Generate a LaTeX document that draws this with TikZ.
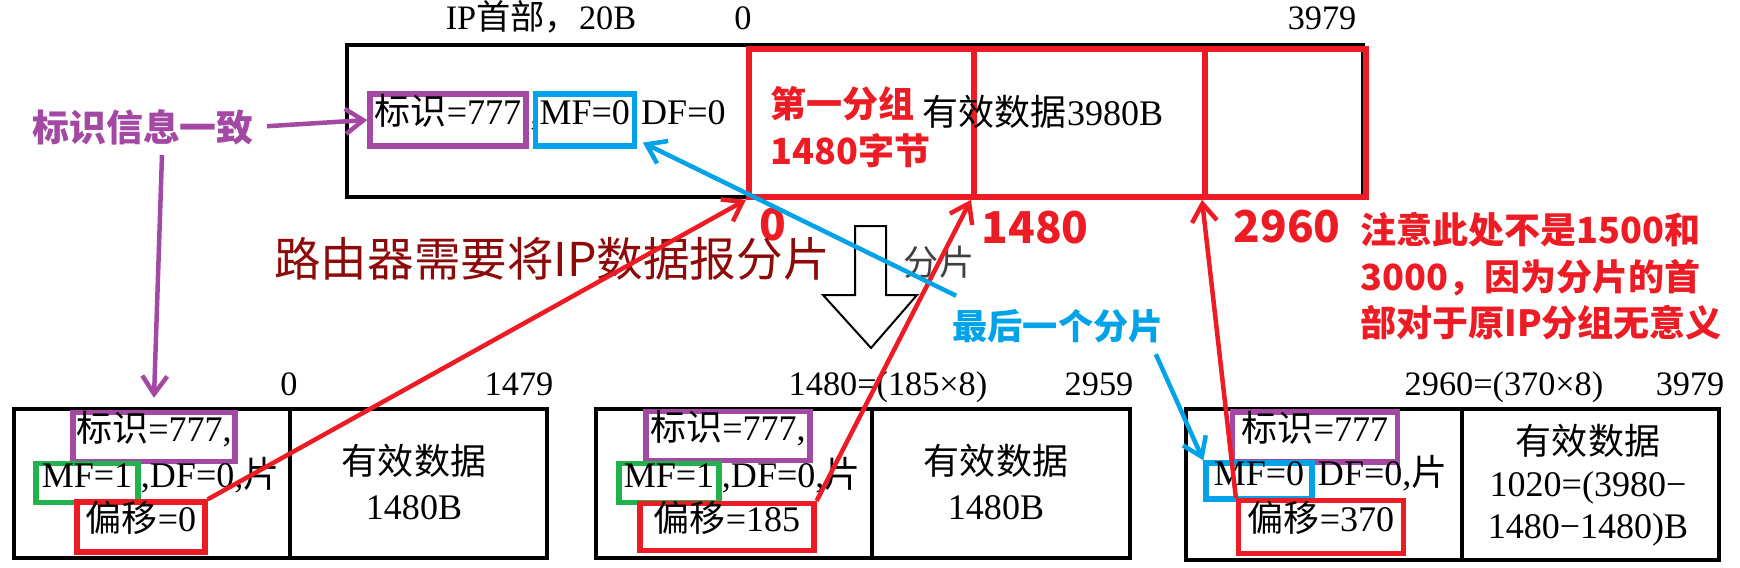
\documentclass[tikz,border=0pt]{standalone}
\usepackage{fontspec}
\setmainfont{Liberation Serif}
\newfontfamily\cjk{Noto Sans CJK SC}
\usetikzlibrary{positioning,arrows.meta}
\definecolor{myred}{RGB}{237,28,36}
\definecolor{mypurple}{RGB}{163,73,164}
\definecolor{myblue}{RGB}{0,162,232}
\definecolor{mygreen}{RGB}{34,177,76}
\definecolor{maroon}{RGB}{140,10,10}
\newcommand\zh[1]{{\cjk #1}}
\newcommand\body{\fontsize{20.5}{25.5}\selectfont}
\newcommand\lab{\fontsize{19.5}{23}\selectfont}
\newcommand\hint{\cjk\bfseries\fontsize{20.5}{26.4}\selectfont}
\newcommand\bignum{\cjk\bfseries\fontsize{25}{30}\selectfont}
\tikzset{
  txt/.style={inner sep=0pt, font=\body, text height=0.75em, text depth=0.2em},
  cell/.style={inner sep=0pt, font=\body, align=center},
  lbl/.style={inner sep=0pt, font=\lab, anchor=base},
  hl/.style={draw=#1, line width=1.05mm, inner sep=0pt, font=\body, text height=0.75em, text depth=0.2em},
  seg/.style={draw=myred, line width=1.15mm, anchor=north west, minimum height=29.6mm, inner sep=0pt},
  frame/.style={line width=0.8mm},
  pin/.style={-{Straight Barb[length=3.6mm,width=5mm]}, line width=0.9mm},
}
\begin{document}
\begin{tikzpicture}[x=0.2mm, y=-0.2mm]
\useasboundingbox (0,0) rectangle (1740,568);

\node[lbl] (hdr) at (541,30) {IP\zh{首部，}20B};
\node[lbl] (t0) at (743,30) {0};
\node[lbl] (t3979) at (1322,30) {3979};
\draw[frame] (347,45) rectangle (1363,197);
\node[seg, minimum width=45mm] (seg1) at (746,46) {};
\node[seg, minimum width=46.2mm] (seg2) at (971,46) {};
\node[seg, minimum width=32.2mm] (seg3) at (1202,46) {};

\node[hl=mypurple, minimum width=31.2mm, minimum height=10.4mm] (id0) at (448,120) {\zh{标识}=777};
\node[txt, anchor=base west] at ([xshift=0.3mm]id0.base east) {,};
\node[hl=myblue, minimum width=19.8mm, minimum height=10.4mm, right=0.8mm of id0] (mf0) {MF=0};
\node[txt, right=0.8mm of mf0] (df0) {DF=0};
\node[txt] (pay0) at (1043,121) {\zh{有效数据}3980B};
\node[font=\hint, text=myred, align=left, anchor=west, inner sep=0pt] (first) at (770,127) {第一分组\\1480字节};

\node[font=\cjk\bfseries\fontsize{21}{25}\selectfont, text=mypurple, inner sep=0pt] (same) at (143,127) {标识信息一致};
\node[font=\bignum, text=myred, inner sep=0pt] (o0) at (773,225) {0};
\node[font=\bignum, text=myred, inner sep=0pt] (o1480) at (1035,228) {1480};
\node[font=\bignum, text=myred, inner sep=0pt] (o2960) at (1287,227) {2960};
\node[font=\hint, text=myred, align=left, anchor=north west, inner sep=0pt] (note) at (1360,212) {注意此处不是1500和\\3000，因为分片的首\\部对于原IP分组无意义};

\node[font=\cjk\fontsize{26.5}{32}\selectfont, text=maroon, inner sep=0pt] (route) at (552,259) {路由器需要将IP数据报分片};
\draw[line width=0.4mm, fill=white] (855,226) -- (886,226) -- (886,295) -- (917,295) -- (871,348) -- (823,295) -- (855,295) -- cycle;
\node[font=\cjk\fontsize{20}{24}\selectfont, text=black!75, inner sep=0pt] (fp) at (939,262) {分片};
\node[font=\cjk\bfseries\fontsize{20}{24}\selectfont, text=myblue, inner sep=0pt] (last) at (1058,326) {最后一个分片};

\node[lbl] (b0) at (289,395) {0};
\node[lbl] (b1479) at (519,395) {1479};
\node[lbl] (b1480) at (888,395) {1480=(185×8)};
\node[lbl] (b2959) at (1099,395) {2959};
\node[lbl] (b2960) at (1504,395) {2960=(370×8)};
\node[lbl] (b3979) at (1690,395) {3979};

\draw[frame] (14,409) rectangle (547,558) (290,409) -- (290,558);
\draw[frame] (596,409) rectangle (1130,558) (872,409) -- (872,558);
\draw[frame] (1186,409) rectangle (1719,560) (1462,409) -- (1462,560);

\node[hl=mypurple, minimum width=32.4mm, minimum height=9.8mm] (id1) at (154,437) {\zh{标识}=777,};
\node[hl=mygreen, minimum width=20.4mm, minimum height=7.8mm] (mf1) at (87,483) {MF=1};
\node[txt, right=0pt of mf1] (df1) {,DF=0,\zh{片}};
\node[hl=myred, minimum width=25.6mm, minimum height=10mm] (off1) at (141,527) {\zh{偏移}=0};
\node[cell] (pay1) at (414,482) {\zh{有效数据}\\1480B};

\node[hl=mypurple, minimum width=32.8mm, minimum height=9.8mm] (id2) at (728,436) {\zh{标识}=777,};
\node[hl=mygreen, minimum width=20mm, minimum height=7.8mm] (mf2) at (669,483) {MF=1};
\node[txt, right=0pt of mf2] (df2) {,DF=0,\zh{片}};
\node[hl=myred, minimum width=34.8mm, minimum height=9.4mm] (off2) at (727,527) {\zh{偏移}=185};
\node[cell] (pay2) at (996,482) {\zh{有效数据}\\1480B};

\node[hl=mypurple, minimum width=33mm, minimum height=10mm] (id3) at (1315,437) {\zh{标识}=777};
\node[hl=myblue, minimum width=21.2mm, minimum height=7.2mm] (mf3) at (1259,481) {MF=0};
\node[txt, right=0.6mm of mf3] (df3) {DF=0,\zh{片}};
\node[hl=myred, minimum width=33mm, minimum height=10.6mm] (off3) at (1321,527) {\zh{偏移}=370};
\node[cell, font=\fontsize{20.5}{23.8}\selectfont] (pay3) at (1588,485) {\zh{有效数据}\\1020=(3980−\\1480−1480)B};

\draw[pin, mypurple, shorten <=2.6mm] (same.east) -- (id0.west);
\draw[pin, mypurple] ([xshift=3.8mm,yshift=-2mm]same.south) -- ([yshift=2.4mm]id1.north);
\draw[pin, myred] (off1.north east) -- (seg1.south west);
\draw[pin, myred] (off2.north east) -- (seg2.south west);
\draw[pin, myred] (off3.north west) -- (seg3.south west);
\draw[pin, myblue] ([xshift=0.8mm,yshift=2.6mm]last.north west) -- ([xshift=1.2mm,yshift=1.2mm]mf0.south east);
\draw[pin, myblue] ([xshift=-1.6mm,yshift=-2.2mm]last.south east) -- (mf3.north west);
\end{tikzpicture}
\end{document}
